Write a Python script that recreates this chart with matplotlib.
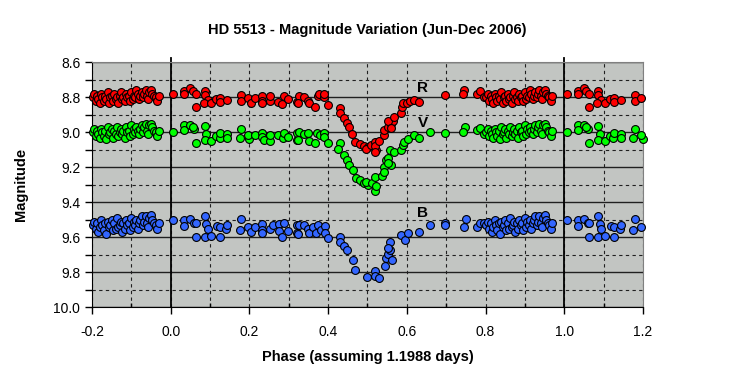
import numpy as np
import matplotlib.pyplot as plt
from matplotlib.ticker import MultipleLocator

plt.rcParams['font.family'] = ['Liberation Sans', 'DejaVu Sans']

# R band (phase 0..1, folded copies drawn at -0.2..0 and 1..1.2)
r_phase = [0.007, 0.035, 0.035, 0.050, 0.056, 0.064, 0.086, 0.086, 0.094, 0.084, 0.064, 0.103,
           0.115, 0.126, 0.126, 0.143, 0.179, 0.179, 0.196, 0.203, 0.213, 0.231, 0.231, 0.233,
           0.253, 0.253, 0.272, 0.282, 0.287, 0.297, 0.321, 0.325, 0.323, 0.338, 0.348, 0.352,
           0.367, 0.374, 0.378, 0.389, 0.389, 0.399, 0.429, 0.429, 0.440, 0.448, 0.454, 0.460,
           0.469, 0.480, 0.492, 0.502, 0.497, 0.509, 0.518, 0.522, 0.520, 0.519, 0.530, 0.543,
           0.541, 0.552, 0.560, 0.564, 0.552, 0.568, 0.560, 0.584, 0.587, 0.590, 0.601, 0.607,
           0.618, 0.630, 0.697, 0.746, 0.742, 0.779, 0.787, 0.797]
r_mag = [8.779, 8.762, 8.781, 8.749, 8.762, 8.779, 8.762, 8.787, 8.815, 8.831, 8.854, 8.831,
         8.812, 8.806, 8.825, 8.815, 8.787, 8.819, 8.806, 8.830, 8.806, 8.792, 8.819, 8.830,
         8.819, 8.792, 8.825, 8.838, 8.792, 8.812, 8.825, 8.793, 8.830, 8.797, 8.819, 8.830,
         8.857, 8.792, 8.781, 8.797, 8.781, 8.844, 8.863, 8.888, 8.920, 8.945, 8.968, 9.010,
         9.054, 9.067, 9.078, 9.086, 9.095, 9.074, 9.054, 9.101, 9.078, 9.110, 9.048, 9.015,
         8.987, 8.968, 8.951, 8.933, 8.937, 8.915, 8.976, 8.888, 8.857, 8.830, 8.830, 8.820,
         8.816, 8.827, 8.787, 8.757, 8.781, 8.781, 8.762, 8.797]

# dense stretch 0.80 - 0.97 shared by all bands
dense_phase = [0.802, 0.806, 0.809, 0.813, 0.816, 0.820, 0.823, 0.826, 0.830, 0.833, 0.836,
               0.840, 0.843, 0.846, 0.850, 0.853, 0.856, 0.860, 0.863, 0.866, 0.870, 0.873,
               0.876, 0.880, 0.883, 0.886, 0.890, 0.893, 0.896, 0.900, 0.903, 0.906, 0.910,
               0.913, 0.916, 0.920, 0.923, 0.926, 0.930, 0.933, 0.936, 0.940, 0.943, 0.946,
               0.950, 0.953, 0.958, 0.962, 0.966, 0.970]
r_dense = [8.80, 8.78, 8.82, 8.79, 8.81, 8.83, 8.78, 8.80, 8.82, 8.79, 8.81, 8.77, 8.83, 8.80,
           8.79, 8.82, 8.78, 8.81, 8.80, 8.83, 8.79, 8.77, 8.81, 8.80, 8.82, 8.78, 8.80, 8.79,
           8.82, 8.77, 8.81, 8.79, 8.80, 8.76, 8.78, 8.81, 8.79, 8.77, 8.80, 8.78, 8.76, 8.79,
           8.81, 8.77, 8.76, 8.78, 8.79, 8.80, 8.82, 8.79]

v_phase = [0.007, 0.035, 0.035, 0.050, 0.060, 0.056, 0.086, 0.090, 0.064, 0.086, 0.103, 0.115,
           0.124, 0.126, 0.143, 0.143, 0.179, 0.175, 0.200, 0.196, 0.213, 0.231, 0.231, 0.238,
           0.253, 0.253, 0.272, 0.285, 0.287, 0.299, 0.321, 0.321, 0.325, 0.323, 0.338, 0.350,
           0.352, 0.367, 0.372, 0.380, 0.389, 0.389, 0.399, 0.429, 0.426, 0.440, 0.448, 0.454,
           0.463, 0.471, 0.480, 0.492, 0.502, 0.497, 0.511, 0.518, 0.519, 0.522, 0.536, 0.541,
           0.547, 0.553, 0.560, 0.552, 0.541, 0.556, 0.568, 0.584, 0.590, 0.594, 0.604, 0.618,
           0.630, 0.658, 0.696, 0.748, 0.742, 0.779, 0.787, 0.797]
v_mag = [8.996, 8.958, 8.987, 8.958, 8.981, 8.970, 8.966, 9.010, 9.063, 9.044, 9.048, 9.021,
         9.034, 9.006, 9.010, 9.034, 8.983, 9.034, 9.040, 9.015, 9.015, 9.002, 9.028, 9.044,
         9.048, 9.015, 9.015, 9.034, 9.006, 9.025, 9.044, 9.006, 8.996, 9.044, 9.010, 9.002,
         9.048, 9.063, 9.002, 9.015, 9.006, 9.025, 9.063, 9.059, 9.097, 9.130, 9.159, 9.187,
         9.215, 9.263, 9.272, 9.288, 9.301, 9.282, 9.288, 9.257, 9.334, 9.307, 9.250, 9.196,
         9.159, 9.149, 9.187, 9.178, 9.225, 9.102, 9.111, 9.102, 9.074, 9.054, 9.040, 9.015,
         9.034, 8.996, 9.002, 8.970, 8.996, 8.987, 8.976, 9.010]
v_dense = [9.00, 8.98, 9.02, 8.99, 9.01, 9.03, 8.98, 9.00, 9.02, 8.99, 9.04, 8.97, 9.01, 9.00,
           8.98, 9.03, 8.99, 9.01, 8.97, 9.02, 9.00, 8.98, 9.01, 8.99, 9.03, 8.97, 9.00, 8.99,
           9.02, 8.96, 9.01, 8.98, 9.00, 8.97, 8.99, 9.01, 8.98, 8.96, 9.00, 8.97, 8.95, 8.99,
           9.01, 8.96, 8.95, 8.97, 8.99, 9.00, 9.02, 8.99]

b_phase = [0.007, 0.035, 0.035, 0.050, 0.060, 0.064, 0.086, 0.090, 0.094, 0.064, 0.086, 0.103,
           0.118, 0.126, 0.126, 0.141, 0.143, 0.179, 0.175, 0.196, 0.203, 0.213, 0.231, 0.231,
           0.233, 0.253, 0.259, 0.274, 0.276, 0.282, 0.287, 0.297, 0.321, 0.322, 0.325, 0.323,
           0.338, 0.348, 0.352, 0.361, 0.370, 0.375, 0.382, 0.391, 0.391, 0.399, 0.429, 0.429,
           0.440, 0.448, 0.463, 0.469, 0.499, 0.518, 0.520, 0.529, 0.545, 0.547, 0.552, 0.556,
           0.563, 0.556, 0.553, 0.585, 0.596, 0.604, 0.630, 0.659, 0.696, 0.697, 0.744, 0.749,
           0.778, 0.786, 0.797]
b_mag = [9.501, 9.501, 9.535, 9.497, 9.518, 9.520, 9.478, 9.524, 9.554, 9.597, 9.597, 9.590,
         9.535, 9.539, 9.597, 9.554, 9.531, 9.497, 9.558, 9.539, 9.567, 9.539, 9.524, 9.558,
         9.577, 9.554, 9.531, 9.524, 9.562, 9.597, 9.520, 9.562, 9.577, 9.531, 9.530, 9.581,
         9.531, 9.554, 9.577, 9.539, 9.577, 9.531, 9.558, 9.535, 9.573, 9.606, 9.597, 9.625,
         9.650, 9.673, 9.730, 9.787, 9.825, 9.791, 9.821, 9.834, 9.764, 9.720, 9.695, 9.673,
         9.730, 9.625, 9.663, 9.587, 9.615, 9.578, 9.568, 9.530, 9.516, 9.530, 9.539, 9.496,
         9.539, 9.520, 9.516]
b_dense = [9.53, 9.51, 9.55, 9.52, 9.57, 9.54, 9.50, 9.53, 9.56, 9.52, 9.58, 9.51, 9.54, 9.53,
           9.50, 9.56, 9.52, 9.55, 9.49, 9.54, 9.53, 9.51, 9.57, 9.52, 9.55, 9.50, 9.53, 9.52,
           9.56, 9.49, 9.54, 9.51, 9.53, 9.50, 9.55, 9.52, 9.50, 9.48, 9.53, 9.51, 9.48, 9.52,
           9.54, 9.49, 9.47, 9.50, 9.52, 9.53, 9.55, 9.52]


def fold(ph, mag):
    ph = np.asarray(ph)
    mag = np.asarray(mag)
    lo = ph - 1 >= -0.2
    hi = ph + 1 <= 1.2
    keep = np.concatenate([lo, np.ones_like(lo), hi])
    return (np.concatenate([ph - 1, ph, ph + 1])[keep],
            np.concatenate([mag, mag, mag])[keep])


fig = plt.figure(figsize=(7.49, 3.86), dpi=100)
ax = fig.add_axes([0.1228, 0.2039, 0.7357, 0.6347])
ax.set_facecolor('#c2c5c2')

series = [
    (r_phase + dense_phase, r_mag + r_dense, '#ff0000'),
    (v_phase + dense_phase, v_mag + v_dense, '#00ff00'),
    (b_phase + dense_phase, b_mag + b_dense, '#3366ff'),
]

ax.set_xlim(-0.2, 1.2)
ax.set_ylim(10.0, 8.6)

ax.xaxis.set_major_locator(MultipleLocator(0.2))
ax.xaxis.set_minor_locator(MultipleLocator(0.1))
ax.yaxis.set_major_locator(MultipleLocator(0.2))
ax.yaxis.set_minor_locator(MultipleLocator(0.1))

ax.grid(which='major', axis='y', color='#202020', linestyle='-', linewidth=1)
ax.grid(which='minor', axis='y', color='#202020', linestyle=(0, (3, 3)), linewidth=0.8)
ax.grid(which='both', axis='x', color='#202020', linestyle=(0, (3, 3)), linewidth=0.8)
ax.set_axisbelow(True)

for xv in (0.0, 1.0):
    ax.plot([xv, xv], [8.577, 10.0], color='black', lw=1.3, clip_on=False, zorder=2)

for ph, mag, col in series:
    x, y = fold(ph, mag)
    ax.scatter(x, y, marker='o', s=32, c=col, edgecolors='black', linewidths=0.8, zorder=3,
               clip_on=False)

ax.text(0.64, 8.745, 'R', fontsize=11, fontweight='bold', ha='center', va='center', zorder=4)
ax.text(0.64, 8.949, 'V', fontsize=11, fontweight='bold', ha='center', va='center', zorder=4)
ax.text(0.64, 9.459, 'B', fontsize=11, fontweight='bold', ha='center', va='center', zorder=4)

ax.set_xticks(np.arange(-0.2, 1.21, 0.2))
ax.set_xticklabels(['-0.2', '0.0', '0.2', '0.4', '0.6', '0.8', '1.0', '1.2'])
ax.set_yticks(np.arange(8.6, 10.01, 0.2))
ax.set_yticklabels(['8.6', '8.8', '9.0', '9.2', '9.4', '9.6', '9.8', '10.0'])

ax.tick_params(axis='both', which='major', direction='out', length=5, width=1, labelsize=10,
               color='black')
ax.tick_params(axis='y', which='minor', direction='out', length=5, width=1)
ax.tick_params(axis='x', which='minor', direction='in', length=3, width=1)
ax.tick_params(axis='x', pad=8)

for side in ('top', 'right'):
    ax.spines[side].set_color('#808080')
for side in ('left', 'bottom'):
    ax.spines[side].set_color('black')

ax.set_xlabel('Phase (assuming 1.1988 days)', fontsize=10.5, fontweight='bold', labelpad=8)
ax.set_ylabel('Magnitude', fontsize=10.5, fontweight='bold', labelpad=18)
fig.text(0.4906, 0.922, 'HD 5513 - Magnitude Variation (Jun-Dec 2006)', fontsize=10.5,
         fontweight='bold', ha='center', va='center')

fig.savefig('out.png', dpi=100)
